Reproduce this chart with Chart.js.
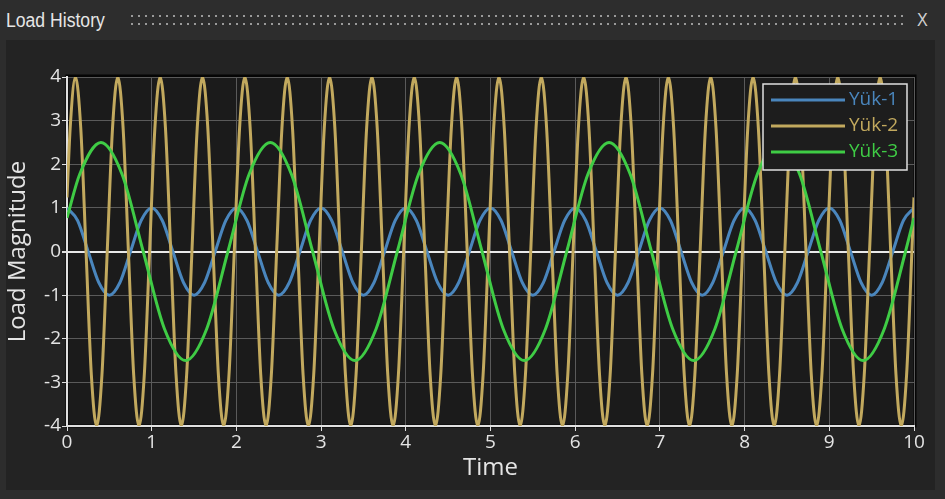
<!DOCTYPE html>
<html>
<head>
<meta charset="utf-8">
<script src="https://cdn.jsdelivr.net/npm/chart.js@4.4.1/dist/chart.umd.min.js"></script>
<style>
  html, body { margin: 0; padding: 0; background: #2d2d2d; }
  #wrap { position: relative; width: 945px; height: 499px; overflow: hidden; }
  #title { position: absolute; left: 6px; top: 9px; font-family: "Liberation Sans", sans-serif;
           font-size: 20px; color: #e6e6e6; white-space: nowrap; transform: scaleX(0.88); transform-origin: left top; }
  .dots { position: absolute; left: 131px; width: 776px; height: 2px;
          background-image: repeating-linear-gradient(90deg, #9a9a9a 0 2px, transparent 2px 7px); }
  #close { position: absolute; left: 917px; top: 9px; font-family: "Liberation Sans", sans-serif; font-size: 19px; color: #d0d0d0;
           transform: scaleX(0.85); transform-origin: left top; }
  #panel { position: absolute; left: 6px; top: 40px; width: 929px; height: 450px; background: #232323; }
  canvas { display: block; }
</style>
</head>
<body>
<div id="wrap">
  <div id="title">Load History</div>
  <div class="dots" style="top:15px"></div>
  <div class="dots" style="top:23px"></div>
  <div id="close">X</div>
  <div id="panel"><canvas id="chart" width="929" height="450"></canvas></div>
</div>
<script>
// Yük-1 samples
const t1 = [
  0, 0.125, 0.25, 0.375, 0.5, 0.625, 0.75, 0.875,
  1, 1.125, 1.25, 1.375, 1.5, 1.625, 1.75, 1.875,
  2, 2.125, 2.25, 2.375, 2.5, 2.625, 2.75, 2.875,
  3, 3.125, 3.25, 3.375, 3.5, 3.625, 3.75, 3.875,
  4, 4.125, 4.25, 4.375, 4.5, 4.625, 4.75, 4.875,
  5, 5.125, 5.25, 5.375, 5.5, 5.625, 5.75, 5.875,
  6, 6.125, 6.25, 6.375, 6.5, 6.625, 6.75, 6.875,
  7, 7.125, 7.25, 7.375, 7.5, 7.625, 7.75, 7.875,
  8, 8.125, 8.25, 8.375, 8.5, 8.625, 8.75, 8.875,
  9, 9.125, 9.25, 9.375, 9.5, 9.625, 9.75, 9.875,
  10
];
const y1 = [
  1, 0.71, 0, -0.71, -1, -0.71, 0, 0.71,
  1, 0.71, 0, -0.71, -1, -0.71, 0, 0.71,
  1, 0.71, 0, -0.71, -1, -0.71, 0, 0.71,
  1, 0.71, 0, -0.71, -1, -0.71, 0, 0.71,
  1, 0.71, 0, -0.71, -1, -0.71, 0, 0.71,
  1, 0.71, 0, -0.71, -1, -0.71, 0, 0.71,
  1, 0.71, 0, -0.71, -1, -0.71, 0, 0.71,
  1, 0.71, 0, -0.71, -1, -0.71, 0, 0.71,
  1, 0.71, 0, -0.71, -1, -0.71, 0, 0.71,
  1, 0.71, 0, -0.71, -1, -0.71, 0, 0.71,
  1
];

// Yük-2 samples
const t2 = [
  0,
  0.0375, 0.1, 0.1625, 0.225, 0.2875, 0.35, 0.4125, 0.475,
  0.5375, 0.6, 0.6625, 0.725, 0.7875, 0.85, 0.9125, 0.975,
  1.0375, 1.1, 1.1625, 1.225, 1.2875, 1.35, 1.4125, 1.475,
  1.5375, 1.6, 1.6625, 1.725, 1.7875, 1.85, 1.9125, 1.975,
  2.0375, 2.1, 2.1625, 2.225, 2.2875, 2.35, 2.4125, 2.475,
  2.5375, 2.6, 2.6625, 2.725, 2.7875, 2.85, 2.9125, 2.975,
  3.0375, 3.1, 3.1625, 3.225, 3.2875, 3.35, 3.4125, 3.475,
  3.5375, 3.6, 3.6625, 3.725, 3.7875, 3.85, 3.9125, 3.975,
  4.0375, 4.1, 4.1625, 4.225, 4.2875, 4.35, 4.4125, 4.475,
  4.5375, 4.6, 4.6625, 4.725, 4.7875, 4.85, 4.9125, 4.975,
  5.0375, 5.1, 5.1625, 5.225, 5.2875, 5.35, 5.4125, 5.475,
  5.5375, 5.6, 5.6625, 5.725, 5.7875, 5.85, 5.9125, 5.975,
  6.0375, 6.1, 6.1625, 6.225, 6.2875, 6.35, 6.4125, 6.475,
  6.5375, 6.6, 6.6625, 6.725, 6.7875, 6.85, 6.9125, 6.975,
  7.0375, 7.1, 7.1625, 7.225, 7.2875, 7.35, 7.4125, 7.475,
  7.5375, 7.6, 7.6625, 7.725, 7.7875, 7.85, 7.9125, 7.975,
  8.0375, 8.1, 8.1625, 8.225, 8.2875, 8.35, 8.4125, 8.475,
  8.5375, 8.6, 8.6625, 8.725, 8.7875, 8.85, 8.9125, 8.975,
  9.0375, 9.1, 9.1625, 9.225, 9.2875, 9.35, 9.4125, 9.475,
  9.5375, 9.6, 9.6625, 9.725, 9.7875, 9.85, 9.9125, 9.975,
  10
];
const y2 = [
  1.24,
  2.83, 4, 2.83, 0, -2.83, -4, -2.83, 0,
  2.83, 4, 2.83, 0, -2.83, -4, -2.83, 0,
  2.83, 4, 2.83, 0, -2.83, -4, -2.83, 0,
  2.83, 4, 2.83, 0, -2.83, -4, -2.83, 0,
  2.83, 4, 2.83, 0, -2.83, -4, -2.83, 0,
  2.83, 4, 2.83, 0, -2.83, -4, -2.83, 0,
  2.83, 4, 2.83, 0, -2.83, -4, -2.83, 0,
  2.83, 4, 2.83, 0, -2.83, -4, -2.83, 0,
  2.83, 4, 2.83, 0, -2.83, -4, -2.83, 0,
  2.83, 4, 2.83, 0, -2.83, -4, -2.83, 0,
  2.83, 4, 2.83, 0, -2.83, -4, -2.83, 0,
  2.83, 4, 2.83, 0, -2.83, -4, -2.83, 0,
  2.83, 4, 2.83, 0, -2.83, -4, -2.83, 0,
  2.83, 4, 2.83, 0, -2.83, -4, -2.83, 0,
  2.83, 4, 2.83, 0, -2.83, -4, -2.83, 0,
  2.83, 4, 2.83, 0, -2.83, -4, -2.83, 0,
  2.83, 4, 2.83, 0, -2.83, -4, -2.83, 0,
  2.83, 4, 2.83, 0, -2.83, -4, -2.83, 0,
  2.83, 4, 2.83, 0, -2.83, -4, -2.83, 0,
  2.83, 4, 2.83, 0, -2.83, -4, -2.83, 0,
  1.24
];

// Yük-3 samples
const t3 = [
  0,
  0.15, 0.4, 0.65, 0.9, 1.15, 1.4, 1.65, 1.9,
  2.15, 2.4, 2.65, 2.9, 3.15, 3.4, 3.65, 3.9,
  4.15, 4.4, 4.65, 4.9, 5.15, 5.4, 5.65, 5.9,
  6.15, 6.4, 6.65, 6.9, 7.15, 7.4, 7.65, 7.9,
  8.15, 8.4, 8.65, 8.9, 9.15, 9.4, 9.65, 9.9,
  10
];
const y3 = [
  0.77,
  1.77, 2.5, 1.77, 0, -1.77, -2.5, -1.77, 0,
  1.77, 2.5, 1.77, 0, -1.77, -2.5, -1.77, 0,
  1.77, 2.5, 1.77, 0, -1.77, -2.5, -1.77, 0,
  1.77, 2.5, 1.77, 0, -1.77, -2.5, -1.77, 0,
  1.77, 2.5, 1.77, 0, -1.77, -2.5, -1.77, 0,
  0.77
];

const seriesNames = ["Yük-1", "Yük-2", "Yük-3"];
const seriesColors = ["#4a86bd", "#c2a95e", "#3fcc45"];

const pts = (ts, ys) => ts.map((t, i) => ({ x: t, y: ys[i] }));

const TXT = "#e4e4e4";
const FONT = "'Open Sans', 'Noto Sans', sans-serif";

// dark plot area with black frame
const plotBg = {
  id: "plotBg",
  beforeDraw(chart) {
    const { ctx, chartArea: a } = chart;
    ctx.save();
    ctx.fillStyle = "#1b1b1b";
    ctx.fillRect(a.left, a.top, a.right - a.left, a.bottom - a.top);
    ctx.strokeStyle = "#050505";
    ctx.lineWidth = 3;
    ctx.strokeRect(a.left, a.top - 1, a.right - a.left + 1, a.bottom - a.top + 1);
    ctx.restore();
  }
};

// legend box in the upper right corner of the plot
const boxLegend = {
  id: "boxLegend",
  afterDraw(chart) {
    const { ctx, chartArea: a } = chart;
    const w = 144, h = 86;
    const x = a.right - 7 - w, y = a.top + 7;
    ctx.save();
    ctx.fillStyle = "#1d1d1d";
    ctx.fillRect(x, y, w, h);
    ctx.strokeStyle = "#e0e0e0";
    ctx.lineWidth = 1.5;
    ctx.strokeRect(x, y, w, h);
    ctx.font = "19px " + FONT;
    ctx.textBaseline = "middle";
    chart.data.datasets.forEach((ds, i) => {
      const ly = y + 16 + i * 26;
      ctx.strokeStyle = ds.borderColor;
      ctx.lineWidth = 3;
      ctx.beginPath();
      ctx.moveTo(x + 8, ly);
      ctx.lineTo(x + 82, ly);
      ctx.stroke();
      ctx.fillStyle = ds.borderColor;
      ctx.fillText(ds.label, x + 86, ly);
    });
    ctx.restore();
  }
};

const gridColor = c => (c.tick && c.tick.value === 0 ? "#e8e8e8" : "#5a5a5a");
const gridWidth = c => (c.tick && c.tick.value === 0 ? 2 : 1);

new Chart(document.getElementById("chart"), {
  type: "scatter",
  data: {
    datasets: [
      { label: seriesNames[0], data: pts(t1, y1), borderColor: seriesColors[0], order: 3 },
      { label: seriesNames[1], data: pts(t2, y2), borderColor: seriesColors[1], order: 2 },
      { label: seriesNames[2], data: pts(t3, y3), borderColor: seriesColors[2], order: 1 }
    ].map(d => Object.assign(d, {
      showLine: true, borderWidth: 3, pointRadius: 0, cubicInterpolationMode: "monotone", fill: false
    }))
  },
  options: {
    responsive: false,
    animation: false,
    devicePixelRatio: 1,
    layout: { padding: { top: 37, right: 21, left: 0, bottom: 0 } },
    plugins: { legend: { display: false }, tooltip: { enabled: false } },
    scales: {
      x: {
        type: "linear", min: 0, max: 10,
        ticks: { stepSize: 1, color: TXT, font: { family: FONT, size: 19 }, padding: 0, maxRotation: 0 },
        grid: { color: "#5a5a5a", tickColor: "#e0e0e0", tickLength: 5 },
        border: { color: "#e0e0e0", width: 2 },
        title: { display: true, text: "Time", color: TXT, font: { family: FONT, size: 24, lineHeight: 1 }, padding: 10 },
        afterFit: s => { s.height = 64; }
      },
      y: {
        min: -4, max: 4,
        ticks: { stepSize: 1, color: TXT, font: { family: FONT, size: 19 }, padding: 1 },
        grid: { color: gridColor, lineWidth: gridWidth, tickColor: "#e0e0e0", tickLength: 5 },
        border: { color: "#e0e0e0", width: 2 },
        title: { display: true, text: "Load Magnitude", color: TXT, font: { family: FONT, size: 24, lineHeight: 1 }, padding: 0 },
        afterFit: s => { s.width = 61; }
      }
    }
  },
  plugins: [plotBg, boxLegend]
});
</script>
</body>
</html>
